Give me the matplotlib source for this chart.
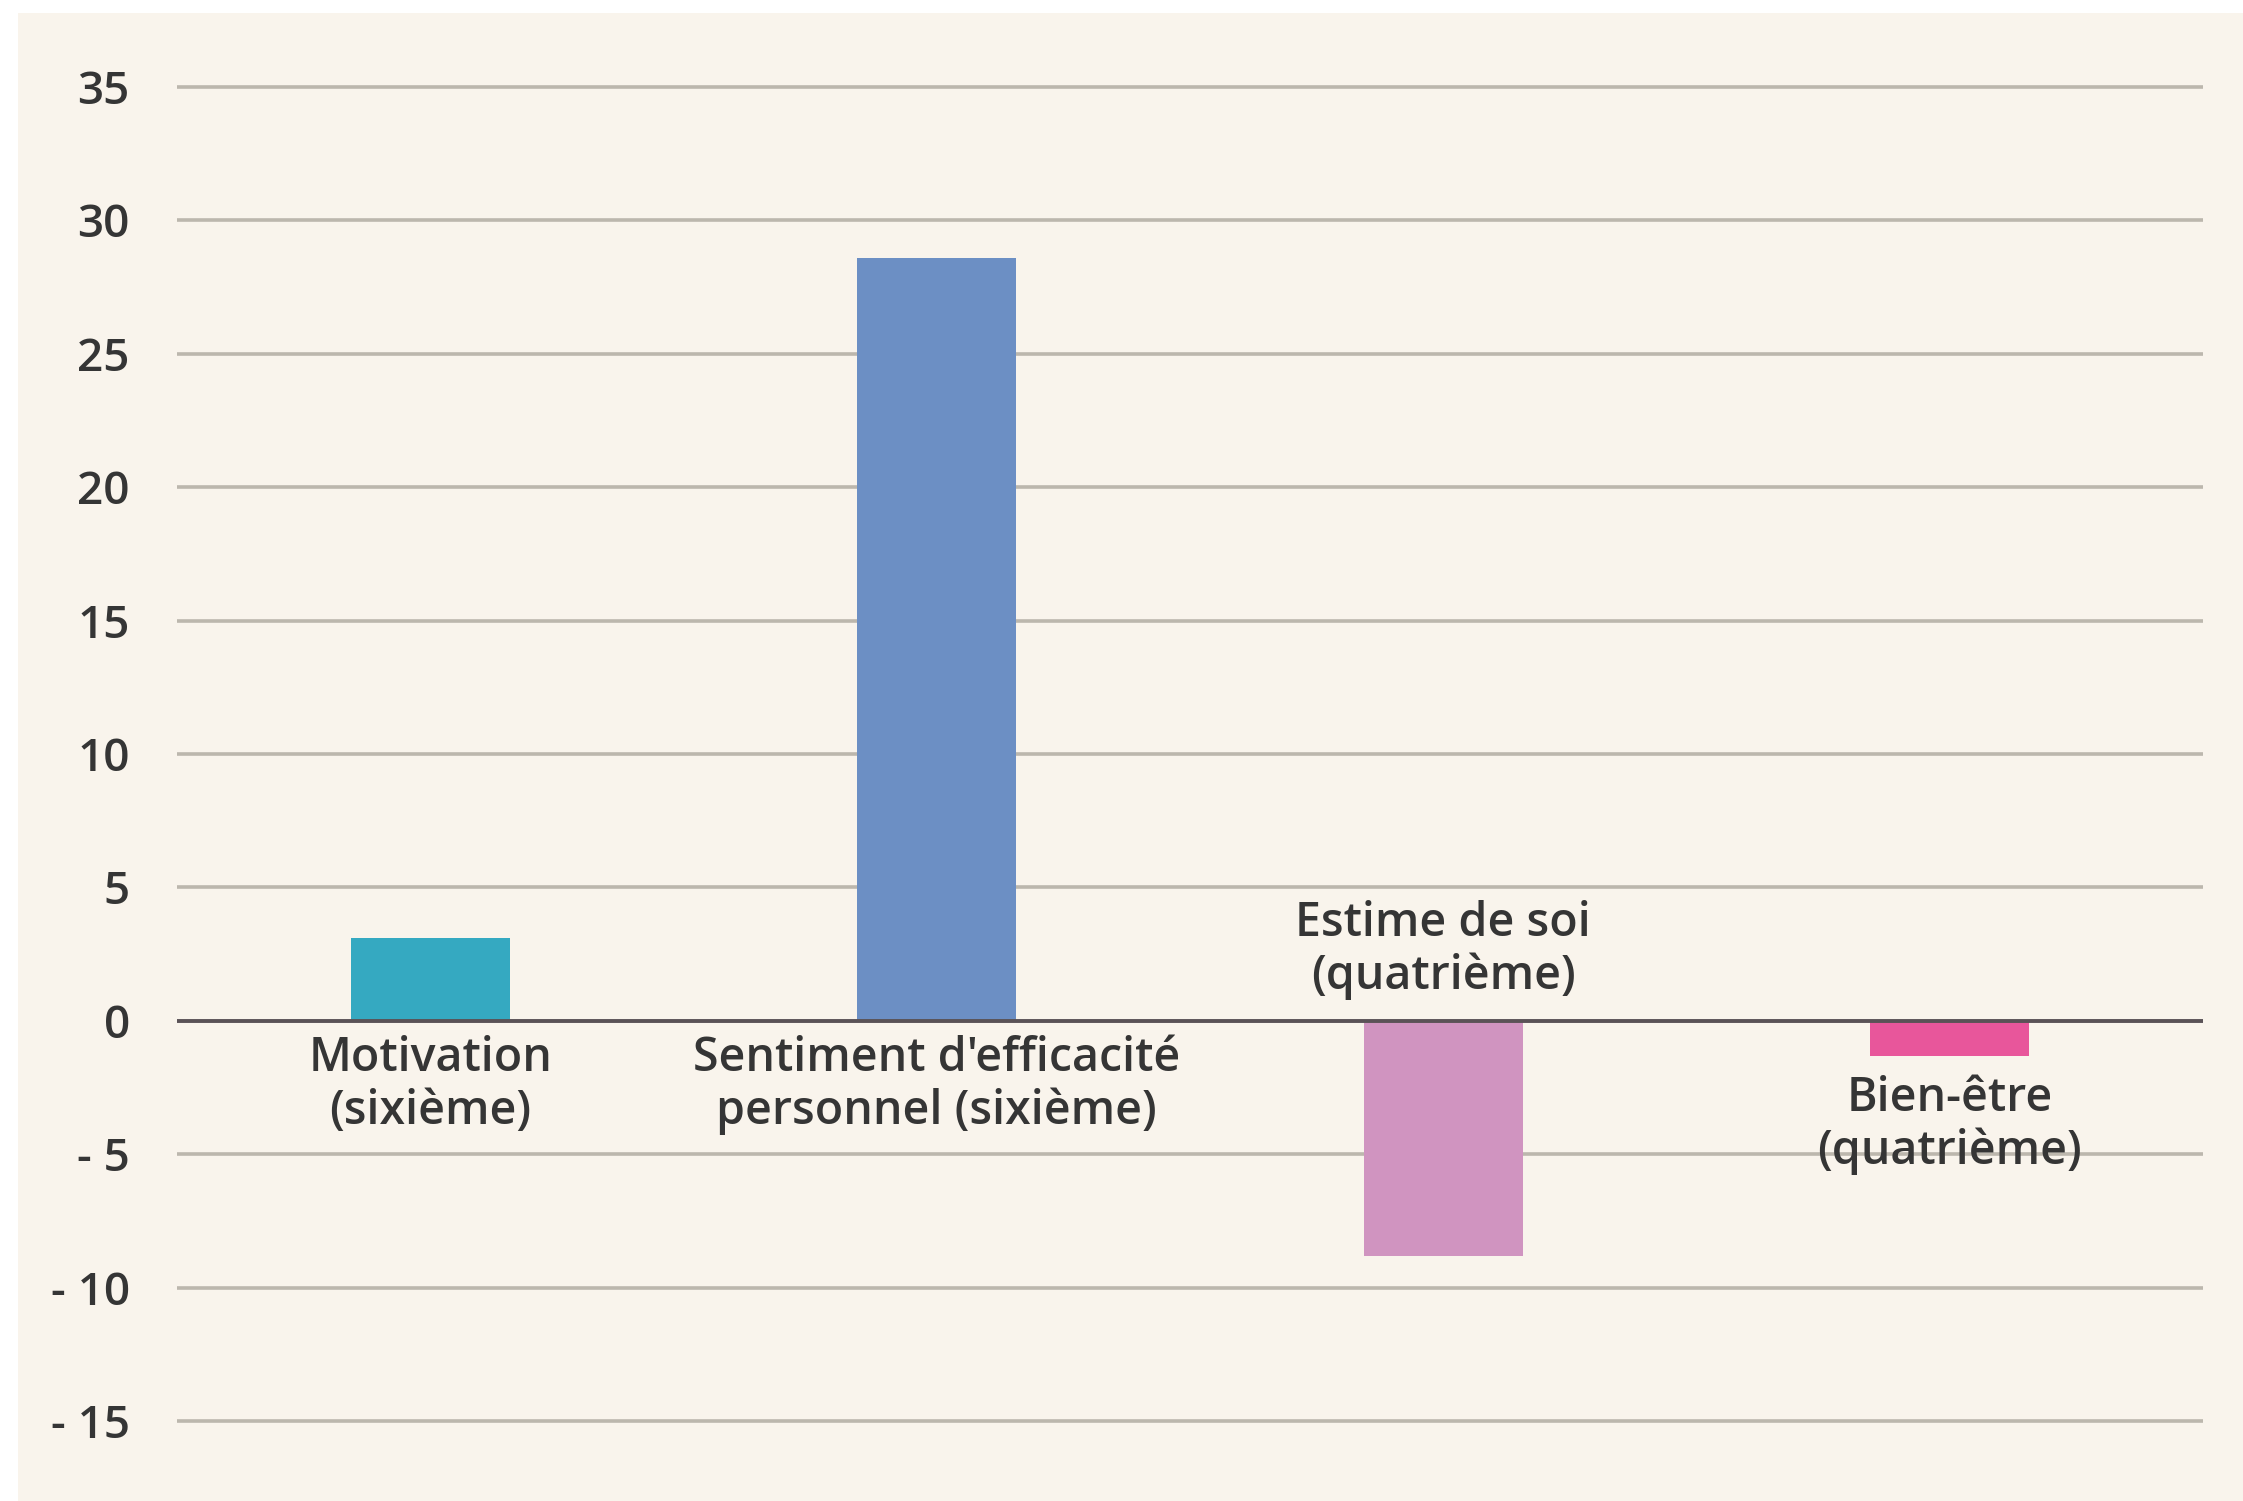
import matplotlib
matplotlib.use("Agg")
import matplotlib.pyplot as plt
from matplotlib.patches import Rectangle

# données
categories = ["Motivation\n(sixième)",
              "Sentiment d'efficacité\npersonnel (sixième)",
              "Estime de soi\n(quatrième)",
              "Bien-être\n(quatrième)"]
values = [3.1, 28.6, -8.8, -1.3]
colors = ["#35a9c1", "#6c8fc4", "#d094c0", "#e8569b"]
yticks = [-15, -10, -5, 0, 5, 10, 15, 20, 25, 30, 35]
ytick_labels = ["- 15", "- 10", "- 5", "0", "5", "10", "15", "20", "25", "30", "35"]

W, H, DPI = 2243, 1501, 100
fig = plt.figure(figsize=(W / DPI, H / DPI), dpi=DPI, facecolor="white")
bg = Rectangle((18 / W, 0), 1, 1 - 13 / H, transform=fig.transFigure,
               facecolor="#f9f4ec", edgecolor="none")
bg.set_zorder(-10)
fig.add_artist(bg)

# axes: -16..36 -> pixels 1448..60
ax = fig.add_axes([177 / W, (H - 1448) / H, (2203 - 177) / W, (1448 - 60) / H])
ax.set_zorder(1)
ax.set_facecolor("none")
ax.set_xlim(-0.5, 3.5)
ax.set_ylim(-16, 36)

x = range(len(values))
ax.bar(x, values, width=0.314, color=colors, zorder=3)

for y in yticks:
    if y != 0:
        ax.axhline(y, color="#bcb7ad", lw=2.6, zorder=1)
ax.axhline(0, color="#5a5256", lw=2.8, zorder=4)

ax.set_yticks(yticks)
ax.set_yticklabels(ytick_labels, fontsize=33, color="#353535",
                   family=["Open Sans", "DejaVu Sans"], fontweight="semibold")
ax.tick_params(axis="y", length=0, pad=34)
ax.set_xticks([])
for s in ax.spines.values():
    s.set_visible(False)

# étiquettes des catégories
for i, (lab, v) in enumerate(zip(categories, values)):
    if i == 2:
        ly = 2.65
    elif v < 0:
        ly = v - 2.6
    else:
        ly = -2.4
    ax.text(i, ly, lab, ha="center", va="center", fontsize=33.5,
            color="#353535", family=["Open Sans", "DejaVu Sans"],
            fontweight="semibold", linespacing=1.16, zorder=5)

fig.savefig("out.png", dpi=DPI, facecolor=fig.get_facecolor())
